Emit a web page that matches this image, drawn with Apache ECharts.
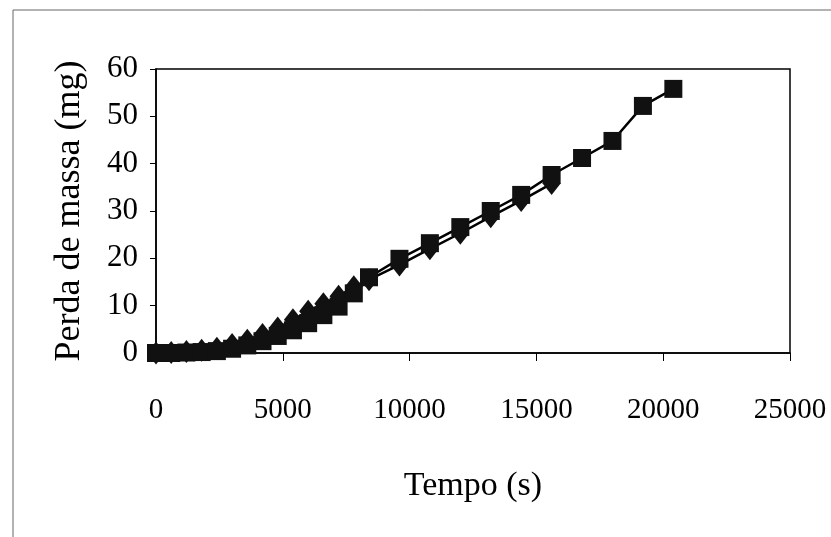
<!DOCTYPE html>
<html>
<head>
<meta charset="utf-8">
<script src="https://cdn.jsdelivr.net/npm/echarts@6/dist/echarts.min.js"></script>
<style>html,body{margin:0;padding:0;background:#fff;}#c{width:831px;height:537px;}</style>
</head>
<body>
<div id="c"></div>
<script>
// Time (s) and mass loss (mg)
var timeSquare = [0,600,1200,1800,2400,3000,3600,4200,4800,5400,6000,6600,7200,7800,8400,9600,10800,12000,13200,14400,15600,16800,18000,19200,20400];
var massSquare = [0,0,0.1,0.2,0.4,0.9,1.6,2.5,3.6,4.8,6.3,8.0,9.8,12.6,16.0,19.9,23.2,26.6,30.0,33.4,37.6,41.2,44.8,52.2,55.8];
var timeDiamond = [0,600,1200,1800,2400,3000,3600,4200,4800,5400,6000,6600,7200,7800,8400,9600,10800,12000,13200,14400,15600];
var massDiamond = [0,0.1,0.3,0.6,1.0,1.8,2.7,3.9,5.3,7.0,8.8,10.4,12.0,14.0,15.5,18.6,22.0,25.3,28.8,32.2,35.8];
var xTitle = 'Tempo (s)';
var yTitle = 'Perda de massa (mg)';

function pairs(xs, ys){ return xs.map(function(x,i){ return [x, ys[i]]; }); }
var serif = "'Liberation Serif','Times New Roman',serif";
var chart = echarts.init(document.getElementById('c'), null, {renderer:'canvas'});
chart.setOption({
  backgroundColor: '#fff',
  animation: false,
  graphic: [{type:'rect', shape:{x:13, y:10, width:900, height:600}, style:{fill:'none', stroke:'#666', lineWidth:1}, silent:true}],
  grid: {left:156, right:41, top:69, bottom:184, show:true, borderColor:'#000', borderWidth:1.5, backgroundColor:'transparent'},
  xAxis: {
    type:'value', min:0, max:25000, interval:5000,
    name: xTitle, nameLocation:'middle', nameGap:116,
    nameTextStyle:{fontFamily:serif, fontSize:34, color:'#000'},
    axisLine:{show:true, lineStyle:{color:'#000', width:1.5}},
    axisTick:{show:true, length:8, lineStyle:{color:'#000'}},
    splitLine:{show:false},
    axisLabel:{fontFamily:serif, fontSize:29, color:'#000', margin:43, formatter:function(v){return String(v);}}
  },
  yAxis: {
    type:'value', min:0, max:60, interval:10,
    name: yTitle, nameLocation:'middle', nameGap:68,
    nameTextStyle:{fontFamily:serif, fontSize:36, color:'#000'},
    axisLine:{show:true, lineStyle:{color:'#000', width:1.5}},
    axisTick:{show:true, length:6, lineStyle:{color:'#000'}},
    splitLine:{show:false},
    axisLabel:{fontFamily:serif, fontSize:31, color:'#000', margin:18}
  },
  series: [
    {type:'line', data:pairs(timeDiamond, massDiamond), symbol:'diamond', symbolSize:[18,23],
     lineStyle:{color:'#000', width:2.5}, itemStyle:{color:'#111'}, showAllSymbol:true, z:2},
    {type:'line', data:pairs(timeSquare, massSquare), symbol:'rect', symbolSize:18,
     lineStyle:{color:'#000', width:2.5}, itemStyle:{color:'#111'}, showAllSymbol:true, z:3}
  ]
});
</script>
</body>
</html>
